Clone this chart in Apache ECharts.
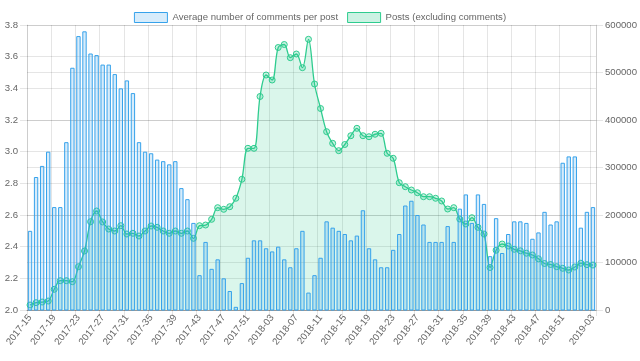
<!DOCTYPE html>
<html>
<head>
<meta charset="utf-8">
<script src="https://cdn.jsdelivr.net/npm/echarts@6/dist/echarts.min.js"></script>
<style>
html,body{margin:0;padding:0;background:#fff;}
#c{width:640px;height:361px;}
</style>
</head>
<body>
<div id="c"></div>
<script>
const weeks = [
"2017-15","2017-16","2017-17","2017-18","2017-19","2017-20","2017-21","2017-22","2017-23","2017-24",
"2017-25","2017-26","2017-27","2017-28","2017-29","2017-30","2017-31","2017-32","2017-33","2017-34",
"2017-35","2017-36","2017-37","2017-38","2017-39","2017-40","2017-41","2017-42","2017-43","2017-44",
"2017-45","2017-46","2017-47","2017-48","2017-49","2017-50","2017-51","2017-52",
"2018-01","2018-02","2018-03","2018-04","2018-05","2018-06","2018-07","2018-08","2018-09","2018-10",
"2018-11","2018-12","2018-13","2018-14","2018-15","2018-16","2018-17","2018-18","2018-19","2018-20",
"2018-21","2018-22","2018-23","2018-24","2018-25","2018-26","2018-27","2018-28","2018-29","2018-30",
"2018-31","2018-32","2018-33","2018-34","2018-35","2018-36","2018-37","2018-38","2018-39","2018-40",
"2018-41","2018-42","2018-43","2018-44","2018-45","2018-46","2018-47","2018-48","2018-49","2018-50",
"2018-51","2018-52","2018-53","2019-01","2019-02","2019-03"
];

const avgComments = [
2.50,2.84,2.91,3.00,2.65,2.65,3.06,3.53,3.73,3.76,
3.62,3.61,3.55,3.55,3.49,3.40,3.45,3.37,3.06,3.00,
2.99,2.95,2.94,2.92,2.94,2.77,2.70,2.55,2.22,2.43,
2.26,2.32,2.20,2.12,2.02,2.17,2.33,2.44,
2.44,2.39,2.37,2.40,2.32,2.27,2.39,2.50,2.11,2.22,
2.33,2.56,2.52,2.50,2.48,2.44,2.47,2.63,2.39,2.32,
2.27,2.27,2.38,2.48,2.66,2.69,2.60,2.54,2.43,2.43,
2.43,2.53,2.43,2.64,2.73,2.55,2.73,2.67,2.34,2.58,
2.36,2.48,2.56,2.56,2.55,2.45,2.49,2.62,2.54,2.56,
2.93,2.97,2.97,2.52,2.62,2.65
];

const posts = [
10500,15400,16800,18900,43600,61700,61700,59600,91200,124200,
185900,208400,185300,170500,166300,177500,160000,161500,155800,166300,
176800,174100,166300,161500,166300,161500,166300,150900,177500,178900,
190900,215400,212000,217500,235200,275200,340400,340400,
449500,494700,484200,552600,558900,531200,538900,510100,569900,475800,
424200,375400,350900,335400,348400,366900,382500,366900,364800,370000,
372000,329900,319400,268000,259600,252600,246900,238500,238500,235200,
229500,212600,215400,191600,181100,194300,174100,160000,89500,125900,
138900,134700,127800,124600,119600,115800,107800,97900,95800,91200,
87800,84200,90500,98500,95400,94700
];

const leftTicks = {min: 2.0, max: 3.8, interval: 0.2};
const rightTicks = {min: 0, max: 600000, interval: 100000};

const seriesNames = ["Average number of comments per post", "Posts (excluding comments)"];

const N = weeks.length;
const showIdx = (i) => (i % 4 === 0 && i + 4 < N) || i === N - 1;
const FONT = "Liberation Sans, Arial, Helvetica, sans-serif";
const FS = 9.6;
const GRID = "rgba(0,0,0,0.1)";

const blue = "rgb(54,162,235)";
const blueFill = "rgba(54,162,235,0.2)";
const green = "rgb(46,204,143)";
const greenFill = "rgba(46,204,143,0.25)";

const chart = echarts.init(document.getElementById('c'), null, {renderer: 'canvas'});
chart.setOption({
  animation: false,
  backgroundColor: '#fff',
  textStyle: {fontFamily: FONT},
  legend: {
    top: 7,
    left: 'center',
    itemWidth: 33,
    itemHeight: 10,
    itemGap: 9,
    textStyle: {color: '#666', fontSize: FS, fontFamily: FONT},
    data: [
      {name: seriesNames[0], icon: 'rect', itemStyle: {color: blueFill, borderColor: blue, borderWidth: 1}},
      {name: seriesNames[1], icon: 'rect', itemStyle: {color: greenFill, borderColor: green, borderWidth: 1}}
    ]
  },
  grid: {left: 27, right: 44, top: 25, bottom: 51, containLabel: false},
  xAxis: {
    type: 'category',
    data: weeks,
    boundaryGap: true,
    axisLine: {show: true, lineStyle: {color: 'rgba(0,0,0,0.25)'}},
    axisTick: {show: true, interval: (i) => showIdx(i), length: 6, lineStyle: {color: GRID}},
    axisLabel: {
      interval: (i) => showIdx(i),
      rotate: 52,
      color: '#666',
      fontSize: FS,
      fontFamily: FONT,
      margin: 6
    },
    splitLine: {show: true, interval: (i) => showIdx(i), lineStyle: {color: GRID}}
  },
  yAxis: [
    {
      type: 'value',
      min: leftTicks.min, max: leftTicks.max, interval: leftTicks.interval,
      position: 'left',
      axisLine: {show: true, lineStyle: {color: GRID}},
      axisTick: {show: true, length: 7, lineStyle: {color: GRID}},
      axisLabel: {color: '#666', fontSize: FS, fontFamily: FONT, margin: 9, formatter: (v) => v.toFixed(1)},
      splitLine: {show: true, lineStyle: {color: GRID}}
    },
    {
      type: 'value',
      min: rightTicks.min, max: rightTicks.max, interval: rightTicks.interval,
      position: 'right',
      axisLine: {show: true, lineStyle: {color: GRID}},
      axisTick: {show: true, length: 7, lineStyle: {color: GRID}},
      axisLabel: {color: '#666', fontSize: FS, fontFamily: FONT, margin: 9, formatter: (v) => String(v)},
      splitLine: {show: true, lineStyle: {color: GRID}}
    }
  ],
  series: [
    {
      name: seriesNames[1],
      type: 'line',
      yAxisIndex: 1,
      data: posts,
      smooth: 0.35,
      symbol: 'circle',
      symbolSize: 6,
      showSymbol: true,
      showAllSymbol: true,
      lineStyle: {color: green, width: 1.3},
      itemStyle: {color: greenFill, borderColor: green, borderWidth: 1},
      areaStyle: {color: greenFill},
      z: 2
    },
    {
      name: seriesNames[0],
      type: 'bar',
      yAxisIndex: 0,
      data: avgComments,
      barWidth: '72%',
      itemStyle: {color: blueFill, borderColor: blue, borderWidth: 1},
      z: 3
    }
  ]
});
</script>
</body>
</html>
